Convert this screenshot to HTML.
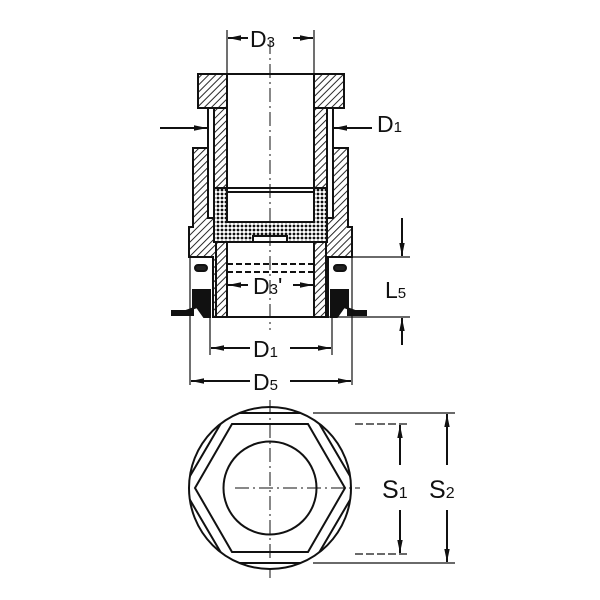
<!DOCTYPE html>
<html><head><style>body{margin:0;background:#fff}svg{display:block}text{font-family:"Liberation Sans",sans-serif;fill:#111}</style></head><body>
<svg width="600" height="600" viewBox="0 0 600 600" xmlns="http://www.w3.org/2000/svg">
<defs>
<pattern id="h" width="5" height="5" patternUnits="userSpaceOnUse" patternTransform="rotate(45)"><rect width="5" height="5" fill="#fff"/><line x1="0" y1="0" x2="0" y2="5" stroke="#111" stroke-width="1.8"/></pattern>
<pattern id="c" width="4" height="4" patternUnits="userSpaceOnUse"><rect width="4" height="4" fill="#fff"/><circle cx="2" cy="2" r="1.4" fill="#111"/></pattern>
<marker id="a" markerWidth="13" markerHeight="7" refX="13" refY="3.5" orient="auto" markerUnits="userSpaceOnUse"><path d="M0,0.8 L13,3.5 L0,6.2z" fill="#111"/></marker>
<clipPath id="cc"><circle cx="270" cy="488" r="81"/></clipPath>
</defs>
<g stroke="#111" stroke-width="2" fill="none">
<rect x="198" y="74" width="29" height="34" fill="url(#h)"/>
<rect x="314" y="74" width="30" height="34" fill="url(#h)"/>
<line x1="197" y1="74" x2="345" y2="74"/>
<rect x="214" y="108" width="13" height="80" fill="url(#h)"/>
<rect x="314" y="108" width="13" height="80" fill="url(#h)"/>
<rect x="208" y="108" width="6" height="110" fill="#fff"/>
<rect x="327" y="108" width="6" height="110" fill="#fff"/>
<path d="M193,148 H208 V218 H214 V242 H227 V317 H213 V257 H189 V227 H193 Z" fill="url(#h)"/>
<path d="M348,148 H333 V218 H327 V242 H314 V317 H328 V257 H352 V227 H348 Z" fill="url(#h)"/>
<path d="M214,188 H227 V222 H314 V188 H327 V242 H214 Z" fill="url(#c)"/>
<rect x="253" y="236" width="34" height="6" fill="#fff"/>
<line x1="227" y1="188" x2="314" y2="188"/>
<line x1="227" y1="192" x2="314" y2="192"/>
<rect x="216" y="242" width="11" height="75" fill="url(#h)"/>
<rect x="314" y="242" width="12" height="75" fill="url(#h)"/>
<line x1="216" y1="317" x2="327" y2="317"/>
<line x1="227" y1="264" x2="314" y2="264" stroke-dasharray="6,3"/>
<line x1="227" y1="272" x2="314" y2="272" stroke-dasharray="6,3"/>
<rect x="195" y="265" width="12" height="6" rx="3" fill="#222"/>
<rect x="334" y="265" width="12" height="6" rx="3" fill="#222"/>
<path d="M193,290 H210 V317 H204 L197,307 L186,311 H172 V315 H193 Z" fill="#111"/>
<path d="M348,290 H331 V317 H337 L344,307 L355,311 H366 V315 H348 Z" fill="#111"/>
<line x1="190" y1="257" x2="190" y2="385" stroke-width="1.2"/>
<line x1="352" y1="257" x2="352" y2="385" stroke-width="1.2"/>
<line x1="210" y1="317" x2="210" y2="355" stroke-width="1.2"/>
<line x1="332" y1="317" x2="332" y2="355" stroke-width="1.2"/>
<line x1="270" y1="40" x2="270" y2="330" stroke-width="1" stroke-dasharray="14,4,2,4"/>
<line x1="227" y1="30" x2="227" y2="74" stroke-width="1.2"/>
<line x1="314" y1="30" x2="314" y2="74" stroke-width="1.2"/>
<line x1="248" y1="38" x2="228" y2="38" marker-end="url(#a)"/>
<line x1="293" y1="38" x2="313" y2="38" marker-end="url(#a)"/>
<line x1="160" y1="128" x2="207" y2="128" marker-end="url(#a)"/>
<line x1="372" y1="128" x2="334" y2="128" marker-end="url(#a)"/>
<line x1="248" y1="285" x2="228" y2="285" marker-end="url(#a)"/>
<line x1="293" y1="285" x2="313" y2="285" marker-end="url(#a)"/>
<line x1="250" y1="348" x2="211" y2="348" marker-end="url(#a)"/>
<line x1="290" y1="348" x2="331" y2="348" marker-end="url(#a)"/>
<line x1="250" y1="381" x2="191" y2="381" marker-end="url(#a)"/>
<line x1="290" y1="381" x2="351" y2="381" marker-end="url(#a)"/>
<line x1="327" y1="257" x2="410" y2="257" stroke-width="1.2"/>
<line x1="327" y1="317" x2="410" y2="317" stroke-width="1.2"/>
<line x1="402" y1="218" x2="402" y2="256" marker-end="url(#a)"/>
<line x1="402" y1="345" x2="402" y2="318" marker-end="url(#a)"/>
<circle cx="270" cy="488" r="81"/>
<polygon points="183,488 227,413 313,413 357,488 313,563 227,563" clip-path="url(#cc)"/>
<polygon points="195,488 232,424 308,424 345,488 308,552 232,552"/>
<circle cx="270" cy="488" r="46.5"/>
<line x1="270" y1="400" x2="270" y2="578" stroke-width="1" stroke-dasharray="14,4,2,4"/>
<line x1="235" y1="488" x2="360" y2="488" stroke-width="1" stroke-dasharray="14,4,2,4"/>
<line x1="313" y1="413" x2="455" y2="413" stroke-width="1.2"/>
<line x1="313" y1="563" x2="455" y2="563" stroke-width="1.2"/>
<line x1="355" y1="424" x2="408" y2="424" stroke-width="1.2" stroke-dasharray="8,3"/>
<line x1="355" y1="554" x2="408" y2="554" stroke-width="1.2" stroke-dasharray="8,3"/>
<line x1="400" y1="465" x2="400" y2="425" marker-end="url(#a)"/>
<line x1="400" y1="510" x2="400" y2="553" marker-end="url(#a)"/>
<line x1="447" y1="465" x2="447" y2="414" marker-end="url(#a)"/>
<line x1="447" y1="510" x2="447" y2="562" marker-end="url(#a)"/>
</g>
<text x="250" y="47" font-size="23">D<tspan font-size="15">3</tspan></text>
<text x="377" y="132" font-size="23">D<tspan font-size="15">1</tspan></text>
<text x="253" y="294" font-size="23">D<tspan font-size="15">3</tspan>'</text>
<text x="385" y="298" font-size="23">L<tspan font-size="15">5</tspan></text>
<text x="253" y="357" font-size="23">D<tspan font-size="15">1</tspan></text>
<text x="253" y="390" font-size="23">D<tspan font-size="15">5</tspan></text>
<text x="382" y="498" font-size="25">S<tspan font-size="16">1</tspan></text>
<text x="429" y="498" font-size="25">S<tspan font-size="16">2</tspan></text>
</svg>
</body></html>
